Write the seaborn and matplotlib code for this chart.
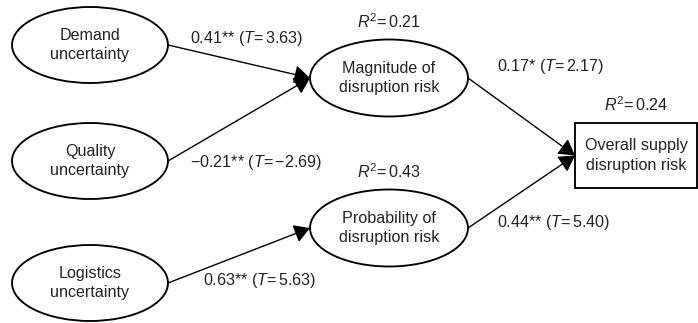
import matplotlib
matplotlib.use("Agg")
import matplotlib.pyplot as plt
from matplotlib.patches import Ellipse, Rectangle, FancyArrowPatch
import seaborn as sns

# nodes of the path model
node_ids = ["demand", "quality", "logistics", "magnitude", "probability", "overall"]
node_labels = ["Demand\nuncertainty", "Quality\nuncertainty", "Logistics\nuncertainty",
               "Magnitude of\ndisruption risk", "Probability of\ndisruption risk",
               "Overall supply\ndisruption risk"]
r2_nodes = ["magnitude", "probability", "overall"]
r2_values = [0.21, 0.43, 0.24]

# paths: source, target, coefficient, significance, T value
path_from = ["demand", "quality", "logistics", "magnitude", "probability"]
path_to = ["magnitude", "magnitude", "probability", "overall", "overall"]
path_coef = [0.41, -0.21, 0.63, 0.17, 0.44]
path_stars = ["**", "**", "**", "*", "**"]
path_t = [3.63, -2.69, 5.63, 2.17, 5.40]


def fmt(v):
    s = f"{abs(v):.2f}"
    return ("\u2212" + s) if v < 0 else s


def main():
    sns.set_theme(style="white")
    plt.rcParams["font.family"] = ["Liberation Sans", "DejaVu Sans"]
    plt.rcParams["mathtext.fontset"] = "custom"
    plt.rcParams["mathtext.rm"] = "Liberation Sans"
    plt.rcParams["mathtext.it"] = "Liberation Sans:italic"

    # layout in pixel space (x, y from top-left), kept apart from the data
    layout = {
        "demand": (90, 45, 156, 76, "ellipse"),
        "quality": (90, 161, 156, 76, "ellipse"),
        "logistics": (90, 283, 156, 76, "ellipse"),
        "magnitude": (389, 78, 158, 77, "ellipse"),
        "probability": (389, 228, 158, 77, "ellipse"),
        "overall": (636, 155.5, 122, 65, "box"),
    }
    label_pos = [(190, 38), (190, 162), (203, 280), (497, 67), (497, 222)]

    fig = plt.figure(figsize=(6.98, 3.23), dpi=100)
    ax = fig.add_axes([0, 0, 1, 1])
    ax.set_xlim(0, 698)
    ax.set_ylim(323, 0)
    ax.axis("off")

    fs = 11.6
    txt = "#222222"
    for nid, lab in zip(node_ids, node_labels):
        cx, cy, w, h, kind = layout[nid]
        if kind == "ellipse":
            ax.add_patch(Ellipse((cx, cy), w, h, fill=False, ec="black", lw=1.35))
        else:
            ax.add_patch(Rectangle((cx - w / 2, cy - h / 2), w, h, fill=False,
                                   ec="black", lw=1.35))
        ax.text(cx, cy, lab, ha="center", va="center", fontsize=fs,
                color=txt, linespacing=1.4)

    for nid, r2 in zip(r2_nodes, r2_values):
        cx, cy, w, h, kind = layout[nid]
        ax.text(cx, cy - h / 2 - 9, f"$R^2$=$\\,${r2:.2f}", ha="center",
                va="bottom", fontsize=fs, color=txt)

    for src, dst, c, st, t, (lx, ly) in zip(path_from, path_to, path_coef,
                                          path_stars, path_t, label_pos):
        sx, sy, sw, sh, _ = layout[src]
        dx, dy, dw, dh, _ = layout[dst]
        arr = FancyArrowPatch((sx + sw / 2, sy), (dx - dw / 2, dy),
                              arrowstyle="-|>,head_length=6,head_width=3.5",
                              mutation_scale=1.6, color="black", lw=1.0,
                              shrinkA=0, shrinkB=0)
        ax.add_patch(arr)
        ax.text(lx, ly, f"{fmt(c)}{st} ($T$=$\\,${fmt(t)})", ha="left",
                va="center", fontsize=fs, color=txt)

    fig.savefig("out.png", dpi=100)


if __name__ == "__main__":
    main()
